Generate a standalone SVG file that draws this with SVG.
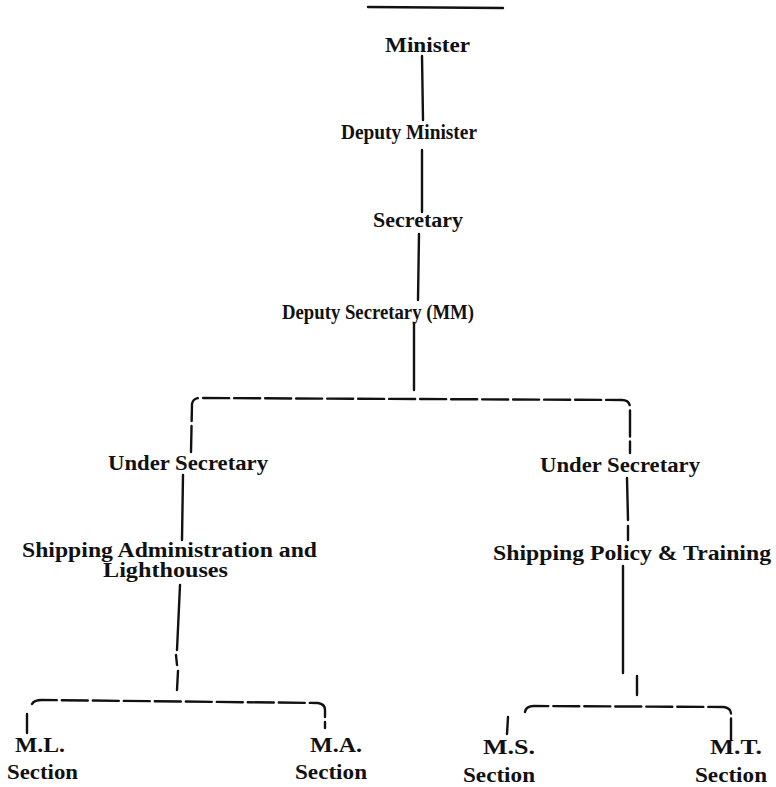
<svg xmlns="http://www.w3.org/2000/svg" width="776" height="787" viewBox="0 0 776 787">
<style>
text{font-family:"Liberation Serif","Times New Roman",serif;fill:#111;text-anchor:start}
.b{font-weight:bold;font-size:20px}
.r{font-size:20px;font-weight:bold}
.c{stroke:#111;stroke-width:2.4;fill:none;stroke-linecap:round}
.d{stroke-dasharray:26 5}
</style>
<rect width="776" height="787" fill="#fff"/>
<g id="connectors">
<line class="c" x1="368" y1="7" x2="503" y2="8" stroke-width="3"/>
<line class="c" x1="422" y1="56" x2="423" y2="120"/>
<line class="c" x1="422" y1="150" x2="422" y2="212"/>
<line class="c" x1="419" y1="234" x2="418" y2="300"/>
<line class="c" x1="414" y1="323" x2="414" y2="390"/>
<path class="c d" d="M191 452 L192 404 Q193 398 200 398 L622 400 Q630 400 630 408 L630 453"/>
<line class="c" x1="183" y1="475" x2="182" y2="540"/>
<line class="c" x1="180" y1="585" x2="177" y2="650"/>
<line class="c" x1="176" y1="655" x2="177" y2="665"/>
<line class="c" x1="178" y1="671" x2="177" y2="690"/>
<path class="c d" d="M32 704 Q34 700 42 700 L318 703 Q325 704 325 710 L325 728"/>
<line class="c" x1="27" y1="714" x2="27" y2="733"/>
<line class="c" x1="627" y1="478" x2="628" y2="520"/>
<line class="c" x1="628" y1="526" x2="628" y2="540"/>
<line class="c" x1="623" y1="566" x2="623" y2="673"/>
<line class="c" x1="637" y1="676" x2="637" y2="695"/>
<path class="c d" d="M525 712 Q526 706 534 706 L724 707 Q731 708 731 714 L731 740"/>
<line class="c" x1="508" y1="717" x2="507" y2="734"/>
</g>
<g id="minister"><text class="b" x="385" y="52" textLength="85" lengthAdjust="spacingAndGlyphs">Minister</text></g>
<g id="deputy-minister"><text class="b" x="341" y="139" textLength="136" lengthAdjust="spacingAndGlyphs">Deputy Minister</text></g>
<g id="secretary"><text class="b" x="373" y="227" textLength="90" lengthAdjust="spacingAndGlyphs">Secretary</text></g>
<g id="deputy-secretary"><text class="r" x="282" y="319" textLength="192" lengthAdjust="spacingAndGlyphs">Deputy Secretary (MM)</text></g>
<g id="under-secretary-left"><text class="r" x="108" y="470" textLength="160" lengthAdjust="spacingAndGlyphs">Under Secretary</text></g>
<g id="shipping-admin"><text class="r" x="22" y="557" textLength="295" lengthAdjust="spacingAndGlyphs">Shipping Administration and</text><text class="r" x="103" y="577" textLength="125" lengthAdjust="spacingAndGlyphs">Lighthouses</text></g>
<g id="under-secretary-right"><text class="r" x="540" y="472" textLength="160" lengthAdjust="spacingAndGlyphs">Under Secretary</text></g>
<g id="shipping-policy"><text class="r" x="493" y="560" textLength="278" lengthAdjust="spacingAndGlyphs">Shipping Policy &amp; Training</text></g>
<g id="ml-section"><text class="b" x="15" y="752" textLength="50" lengthAdjust="spacingAndGlyphs">M.L.</text><text class="b" x="7" y="779" textLength="71" lengthAdjust="spacingAndGlyphs">Section</text></g>
<g id="ma-section"><text class="b" x="310" y="752" textLength="52" lengthAdjust="spacingAndGlyphs">M.A.</text><text class="b" x="295" y="779" textLength="72" lengthAdjust="spacingAndGlyphs">Section</text></g>
<g id="ms-section"><text class="b" x="483" y="754" textLength="52" lengthAdjust="spacingAndGlyphs">M.S.</text><text class="b" x="463" y="782" textLength="72" lengthAdjust="spacingAndGlyphs">Section</text></g>
<g id="mt-section"><text class="b" x="710" y="754" textLength="52" lengthAdjust="spacingAndGlyphs">M.T.</text><text class="b" x="695" y="782" textLength="72" lengthAdjust="spacingAndGlyphs">Section</text></g>
</svg>
